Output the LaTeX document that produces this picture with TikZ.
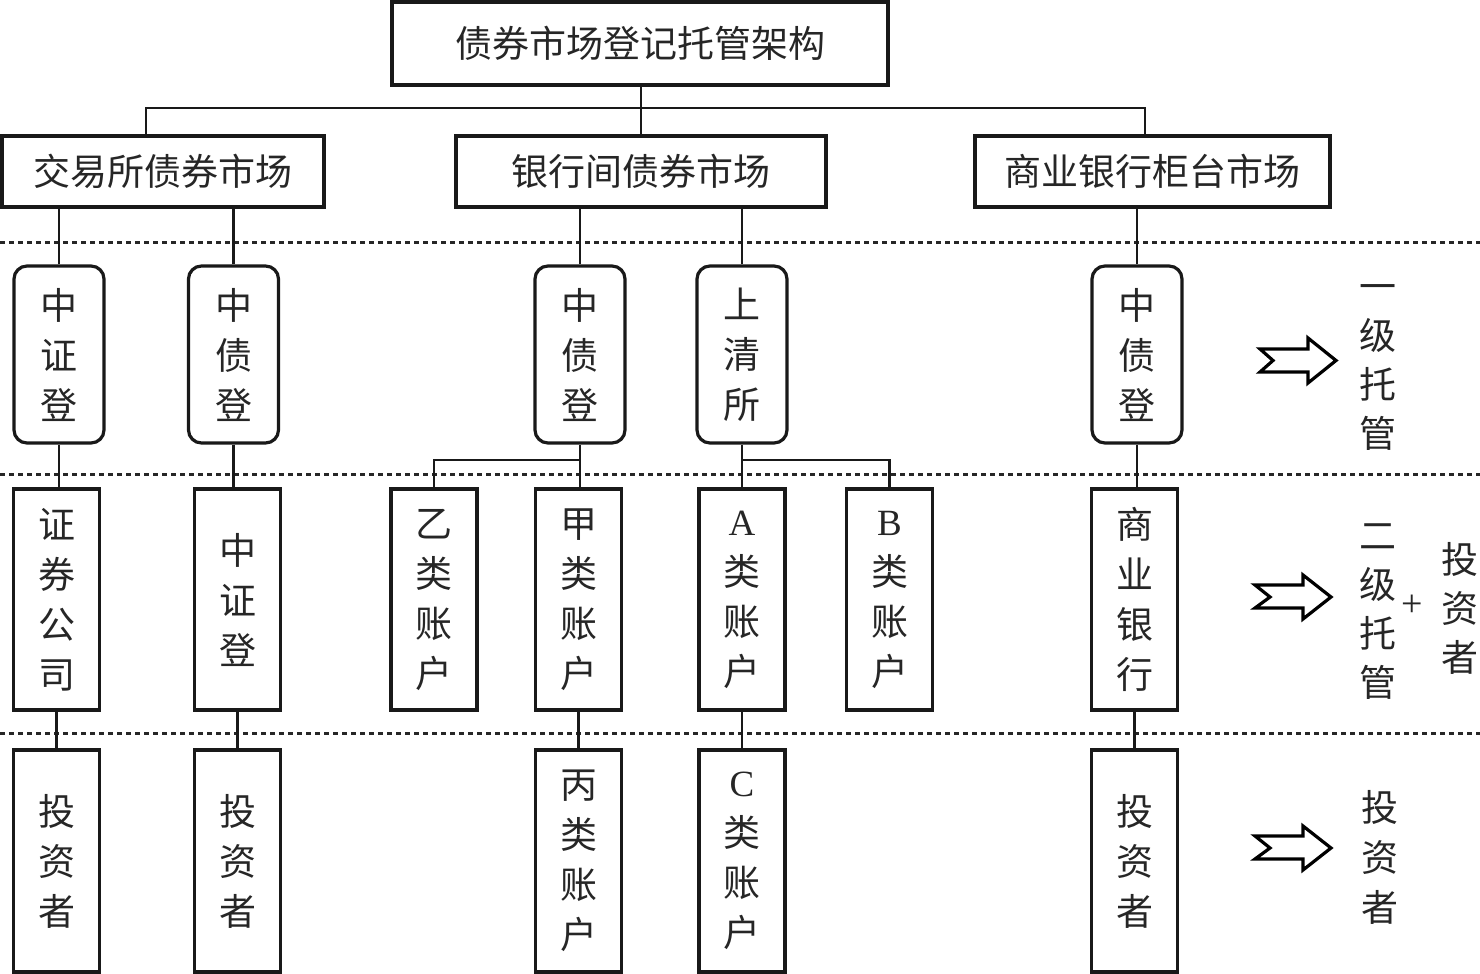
\documentclass[tikz,border=0pt]{standalone}
\usepackage{fontspec}
\newfontfamily\cjk{Noto Sans CJK SC}
\newfontfamily\lat{Liberation Serif}
\begin{document}
\begin{tikzpicture}[x=1pt,y=-1pt,
  txt/.style={font=\cjk\fontsize{37}{50}\selectfont, text=black!85, align=center, inner sep=0pt},
  box/.style={txt, draw=black!90, line width=3.2pt},
  rbox/.style={box, rounded corners=13pt, minimum width=90pt, minimum height=177pt},
  vbox/.style={box, minimum width=86pt, minimum height=221pt},
  conn/.style={draw=black!90, line width=2.8pt},
  sep/.style={draw=black!85, line width=3pt, dash pattern=on 4.5pt off 4.5pt},
  barrow/.style={draw=black, line width=3.2pt, line join=miter, fill=white}]
\useasboundingbox (0,0) rectangle (1480,974);

% top and markets
\node[box, minimum width=496pt, minimum height=83pt] (top) at (640,43.5) {债券市场登记托管架构};
\node[box, minimum width=322pt, minimum height=71pt] (m1) at (163,171.5) {交易所债券市场};
\node[box, minimum width=370pt, minimum height=71pt] (m2) at (641,171.5) {银行间债券市场};
\node[box, minimum width=355pt, minimum height=71pt] (m3) at (1152.5,171.5) {商业银行柜台市场};

\coordinate (b0) at (641,108);
\coordinate (b1) at (146,108);
\coordinate (b3) at (1145,108);
\draw[conn] (b0 |- top.south) -- (b0);
\draw[conn] (b1 |- m1.north) -- (b1) -- (b3) -- (b3 |- m3.north);
\draw[conn] (b0) -- (b0 |- m2.north);

% separators
\draw[sep] (0,242) -- (1480,242);
\draw[sep] (0,474) -- (1480,474);
\draw[sep] (0,733) -- (1480,733);

% level 1 custodians
\node[rbox] (c1) at (59,354.5) {中\\证\\登};
\node[rbox] (c2) at (233.5,354.5) {中\\债\\登};
\node[rbox] (c3) at (580,354.5) {中\\债\\登};
\node[rbox] (c4) at (742,354.5) {上\\清\\所};
\node[rbox] (c5) at (1137,354.5) {中\\债\\登};

\draw[conn] (c1.north) -- (c1.north |- m1.south);
\draw[conn] (c2.north) -- (c2.north |- m1.south);
\draw[conn] (c3.north) -- (c3.north |- m2.south);
\draw[conn] (c4.north) -- (c4.north |- m2.south);
\draw[conn] (c5.north) -- (c5.north |- m3.south);

% level 2
\node[vbox] (d1) at (56.5,599.5) {证\\券\\公\\司};
\node[vbox] (d2) at (237.5,599.5) {中\\证\\登};
\node[vbox] (d3) at (434,599.5) {乙\\类\\账\\户};
\node[vbox] (d4) at (578.5,599.5) {甲\\类\\账\\户};
\node[vbox] (d5) at (742,599.5) {{\lat A}\\类\\账\\户};
\node[vbox] (d6) at (889.5,599.5) {{\lat B}\\类\\账\\户};
\node[vbox] (d7) at (1134.5,599.5) {商\\业\\银\\行};

\draw[conn] (c1.south) -- (c1.south |- d1.north);
\draw[conn] (c2.south) -- (c2.south |- d2.north);
\coordinate (s3) at (580,460);
\coordinate (s4) at (742,460);
\draw[conn] (c3.south) -- (s3 |- d4.north);
\draw[conn] (s3) -| (d3.north);
\draw[conn] (c4.south) -- (s4) -- (s4 |- d5.north);
\draw[conn] (s4) -| (d6.north);
\draw[conn] (c5.south) -- (c5.south |- d7.north);

% level 3
\node[box, minimum width=86pt, minimum height=222pt] (e1) at (56.5,861) {投\\资\\者};
\node[box, minimum width=86pt, minimum height=222pt] (e2) at (237.5,861) {投\\资\\者};
\node[box, minimum width=86pt, minimum height=222pt] (e3) at (578.5,861) {丙\\类\\账\\户};
\node[box, minimum width=86pt, minimum height=222pt] (e4) at (742,861) {{\lat C}\\类\\账\\户};
\node[box, minimum width=86pt, minimum height=222pt] (e5) at (1134.5,861) {投\\资\\者};

\draw[conn] (d1.south) -- (e1.north);
\draw[conn] (d2.south) -- (e2.north);
\draw[conn] (d4.south) -- (e3.north);
\draw[conn] (d5.south) -- (e4.north);
\draw[conn] (d7.south) -- (e5.north);

% right legend
\draw[barrow] (1260,349) -- (1308,349) -- (1308,338) -- (1336,360.5) -- (1308,383) -- (1308,372) -- (1260,372) -- (1273,360.5) -- cycle;
\draw[barrow] (1255,585) -- (1303,585) -- (1303,575) -- (1331,597) -- (1303,619) -- (1303,608) -- (1255,608) -- (1270,597) -- cycle;
\draw[barrow] (1255,836) -- (1303,836) -- (1303,826) -- (1331,848) -- (1303,870) -- (1303,859) -- (1255,859) -- (1270,848) -- cycle;

\node[txt, font=\cjk\fontsize{37}{49}\selectfont] (l1) at (1378,368) {一\\级\\托\\管};
\node[txt, font=\cjk\fontsize{37}{49}\selectfont] (l2) at (1378,612) {二\\级\\托\\管};
\node[txt, font=\lat\fontsize{38}{38}\selectfont] (plus) at (1412,606) {+};
\node[txt, font=\cjk\fontsize{37}{49}\selectfont] (l3) at (1460,608) {投\\资\\者};
\node[txt, font=\cjk\fontsize{37}{50}\selectfont] (l4) at (1380,857) {投\\资\\者};
\end{tikzpicture}
\end{document}
